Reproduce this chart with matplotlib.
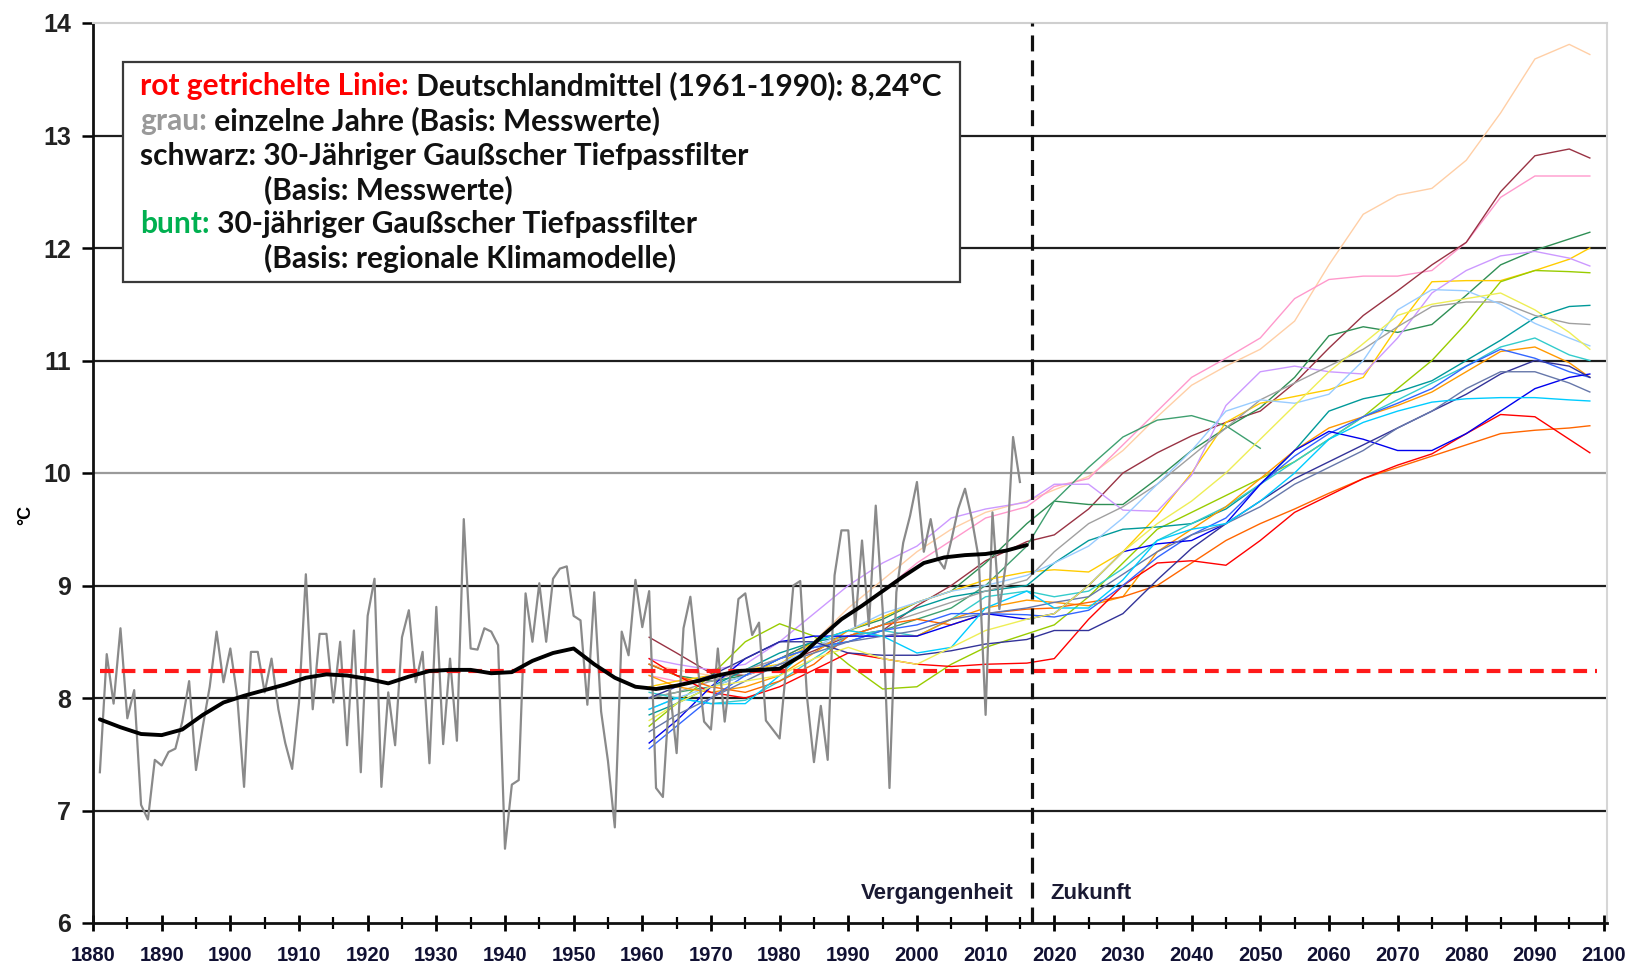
"""Deutschland-Jahresmitteltemperatur 1881-2015 und regionale Klimamodelle bis 2100."""
import numpy as np
import matplotlib
matplotlib.use("Agg")
import matplotlib.pyplot as plt
from matplotlib.patches import Rectangle
from matplotlib.ticker import MultipleLocator

W, H = 1648, 965

# ---- measured annual means (grau), 1881-2015 ----
ANNUAL_START = 1881
ANNUAL = [
    7.34, 8.39, 7.95, 8.62, 7.82, 8.07, 7.05, 6.92, 7.45,
    7.40, 7.52, 7.55, 7.79, 8.15, 7.36, 7.75, 8.10, 8.59, 8.14,
    8.44, 8.02, 7.21, 8.41, 8.41, 8.05, 8.35, 7.90, 7.60, 7.37,
    7.96, 9.10, 7.90, 8.57, 8.57, 7.96, 8.50, 7.58, 8.60, 7.34,
    8.73, 9.06, 7.21, 8.05, 7.58, 8.54, 8.78, 8.14, 8.41, 7.42,
    8.81, 7.59, 8.35, 7.62, 9.59, 8.44, 8.43, 8.62, 8.59, 8.47,
    6.66, 7.23, 7.27, 8.93, 8.50, 9.02, 8.50, 9.06, 9.15, 9.17,
    8.73, 8.69, 7.94, 8.94, 7.88, 7.44, 6.85, 8.59, 8.38, 9.05,
    8.63, 8.95, 7.20, 7.12, 8.09, 7.51, 8.62, 8.90, 8.32, 7.79,
    7.72, 8.44, 7.79, 8.30, 8.88, 8.93, 8.56, 8.67, 7.80, 7.72,
    7.64, 8.30, 9.00, 9.04, 8.00, 7.43, 7.93, 7.45, 9.09, 9.49,
    9.49, 8.64, 9.40, 8.64, 9.71, 8.79, 7.20, 8.94, 9.38, 9.62,
    9.92, 9.30, 9.59, 9.24, 9.15, 9.40, 9.68, 9.86, 9.59, 9.24,
    7.85, 9.65, 8.79, 9.21, 10.32, 9.92,
]

# ---- 30-year Gaussian low-pass of the measurements (schwarz) ----
SMOOTH_YEARS = list(range(1881, 2017, 3))
SMOOTH = [
    7.81, 7.74, 7.68, 7.67, 7.72, 7.85, 7.96, 8.02, 8.07, 8.12,
    8.18, 8.21, 8.20, 8.17, 8.13, 8.19, 8.24, 8.25, 8.25, 8.22,
    8.23, 8.33, 8.40, 8.44, 8.30, 8.18, 8.10, 8.08, 8.11, 8.15,
    8.20, 8.24, 8.25, 8.26, 8.37, 8.54, 8.70, 8.82, 8.95, 9.08,
    9.20, 9.25, 9.27, 9.28, 9.31, 9.36,
]

MEAN_1961_1990 = 8.24
MEAN_SPAN = (1881, 2099)
PRESENT = 2016.7

# ---- regional climate models, 30-year low-pass (bunt) ----
MODEL_YEARS = [1961, 1965, 1970, 1975, 1980, 1985, 1990, 1995, 2000, 2005, 2010,
               2016, 2020, 2025, 2030, 2035, 2040, 2045, 2050, 2055, 2060, 2065,
               2070, 2075, 2080, 2085, 2090, 2095, 2098]
nan = np.nan
MODELS = {
    "#ffcfa6": [8.30, 8.25, 8.20, 8.20, 8.30, 8.50, 8.80, 9.05, 9.30, 9.50, 9.65,
                9.75, 9.85, 9.97, 10.20, 10.50, 10.78, 10.95, 11.10, 11.35, 11.85,
                12.30, 12.47, 12.53, 12.78, 13.20, 13.68, 13.81, 13.72],
    "#ff99cc": [8.20, 8.15, 8.15, 8.25, 8.35, 8.50, 8.75, 8.95, 9.20, 9.40, 9.60,
                9.70, 9.88, 9.95, 10.25, 10.55, 10.85, 11.02, 11.20, 11.55, 11.72,
                11.75, 11.75, 11.80, 12.05, 12.45, 12.64, 12.64, 12.64],
    "#993344": [8.54, 8.40, 8.22, 8.20, 8.30, 8.42, 8.55, 8.60, 8.82, 9.00, 9.22,
                9.39, 9.45, 9.68, 10.00, 10.18, 10.33, 10.45, 10.55, 10.80, 11.11,
                11.40, 11.62, 11.85, 12.05, 12.50, 12.82, 12.88, 12.80],
    "#2f8f55": [8.30, 8.20, 8.15, 8.20, 8.35, 8.50, 8.60, 8.70, 8.85, 8.95, 9.20,
                9.55, 9.75, 9.72, 9.72, 9.95, 10.20, 10.40, 10.58, 10.85, 11.22,
                11.30, 11.25, 11.32, 11.58, 11.85, 11.98, 12.08, 12.14],
    "#3fa070": [8.00, 8.05, 8.10, 8.20, 8.35, 8.45, 8.50, 8.60, 8.70, 8.80, 9.00,
                9.35, 9.75, 10.05, 10.32, 10.47, 10.51, 10.42, 10.22, nan, nan,
                nan, nan, nan, nan, nan, nan, nan, nan],
    "#ffcc00": [8.10, 8.15, 8.20, 8.25, 8.30, 8.50, 8.60, 8.72, 8.85, 8.95, 9.05,
                9.12, 9.14, 9.12, 9.30, 9.62, 10.00, 10.45, 10.62, 10.68, 10.74,
                10.85, 11.30, 11.70, 11.71, 11.71, 11.80, 11.90, 12.00],
    "#cc99ff": [8.35, 8.30, 8.25, 8.30, 8.50, 8.75, 9.00, 9.20, 9.35, 9.60, 9.68,
                9.74, 9.90, 9.90, 9.67, 9.66, 9.98, 10.60, 10.90, 10.95, 10.90,
                10.88, 11.20, 11.60, 11.80, 11.93, 11.97, 11.91, 11.84],
    "#99cc00": [7.75, 7.95, 8.20, 8.50, 8.66, 8.55, 8.30, 8.08, 8.10, 8.30, 8.45,
                8.57, 8.65, 8.90, 9.20, 9.50, 9.65, 9.80, 9.95, 10.10, 10.30,
                10.50, 10.75, 11.00, 11.33, 11.70, 11.80, 11.79, 11.78],
    "#009999": [7.85, 7.95, 8.10, 8.25, 8.40, 8.50, 8.55, 8.65, 8.80, 8.90, 8.95,
                9.00, 9.20, 9.40, 9.50, 9.52, 9.55, 9.68, 9.90, 10.20, 10.55,
                10.66, 10.72, 10.82, 11.00, 11.18, 11.38, 11.48, 11.49],
    "#a0a0a0": [8.00, 8.05, 8.15, 8.25, 8.35, 8.45, 8.55, 8.65, 8.75, 8.85, 8.95,
                9.05, 9.30, 9.55, 9.70, 9.90, 10.15, 10.40, 10.65, 10.80, 10.95,
                11.10, 11.30, 11.48, 11.52, 11.52, 11.40, 11.33, 11.32],
    "#99ccff": [7.90, 8.00, 8.10, 8.20, 8.30, 8.45, 8.60, 8.75, 8.85, 8.95, 9.00,
                9.09, 9.20, 9.35, 9.60, 9.90, 10.20, 10.55, 10.65, 10.62, 10.70,
                11.00, 11.45, 11.63, 11.62, 11.50, 11.33, 11.20, 11.13],
    "#33cccc": [8.05, 8.00, 7.95, 7.98, 8.15, 8.35, 8.55, 8.60, 8.55, 8.70, 8.90,
                8.95, 8.90, 8.95, 9.15, 9.40, 9.55, 9.70, 9.90, 10.10, 10.30,
                10.50, 10.65, 10.80, 10.95, 11.12, 11.20, 11.05, 11.00],
    "#ff9900": [8.20, 8.10, 8.05, 8.10, 8.20, 8.40, 8.60, 8.55, 8.55, 8.70, 8.80,
                8.87, 8.85, 8.82, 8.90, 9.30, 9.50, 9.70, 9.95, 10.20, 10.40,
                10.50, 10.60, 10.72, 10.90, 11.08, 11.12, 10.98, 10.85],
    "#ff6600": [8.30, 8.20, 8.10, 8.05, 8.15, 8.30, 8.55, 8.65, 8.70, 8.65, 8.75,
                8.79, 8.80, 8.85, 8.90, 9.00, 9.20, 9.40, 9.55, 9.68, 9.82,
                9.95, 10.05, 10.15, 10.25, 10.35, 10.38, 10.40, 10.42],
    "#ff0000": [8.35, 8.20, 8.05, 8.00, 8.10, 8.25, 8.40, 8.35, 8.30, 8.28, 8.30,
                8.31, 8.35, 8.70, 9.00, 9.20, 9.22, 9.18, 9.40, 9.65, 9.80,
                9.95, 10.07, 10.17, 10.35, 10.52, 10.50, 10.30, 10.18],
    "#3366ff": [7.55, 7.75, 8.00, 8.20, 8.35, 8.45, 8.50, 8.60, 8.65, 8.75, 8.75,
                8.74, 8.72, 8.78, 9.00, 9.25, 9.45, 9.60, 9.90, 10.15, 10.35,
                10.50, 10.62, 10.75, 10.95, 11.10, 11.02, 10.90, 10.85],
    "#0000ee": [7.60, 7.80, 8.10, 8.35, 8.50, 8.55, 8.55, 8.55, 8.55, 8.65, 8.75,
                8.70, 8.75, 9.00, 9.30, 9.37, 9.40, 9.55, 9.90, 10.20, 10.37,
                10.30, 10.20, 10.20, 10.35, 10.55, 10.75, 10.85, 10.88],
    "#333399": [8.00, 8.10, 8.20, 8.35, 8.50, 8.50, 8.40, 8.38, 8.38, 8.42, 8.48,
                8.52, 8.60, 8.60, 8.75, 9.05, 9.33, 9.55, 9.75, 9.95, 10.10,
                10.25, 10.40, 10.55, 10.70, 10.88, 11.00, 10.95, 10.85],
    "#6677aa": [7.70, 7.85, 8.00, 8.15, 8.30, 8.40, 8.50, 8.55, 8.60, 8.70, 8.75,
                8.80, 8.85, 8.90, 9.10, 9.30, 9.45, 9.55, 9.70, 9.90, 10.05,
                10.20, 10.40, 10.55, 10.75, 10.90, 10.90, 10.80, 10.72],
    "#00ccff": [7.90, 8.00, 7.95, 7.95, 8.20, 8.50, 8.60, 8.55, 8.40, 8.45, 8.80,
                8.95, 8.80, 8.80, 9.05, 9.40, 9.50, 9.55, 9.75, 10.00, 10.30,
                10.45, 10.55, 10.63, 10.66, 10.67, 10.67, 10.65, 10.64],
    "#eeee55": [7.80, 7.95, 8.10, 8.15, 8.20, 8.35, 8.45, 8.35, 8.30, 8.45, 8.60,
                8.70, 8.75, 9.00, 9.30, 9.55, 9.75, 10.00, 10.30, 10.60, 10.90,
                11.15, 11.40, 11.50, 11.55, 11.60, 11.45, 11.25, 11.10],
}

XTICKS = list(range(1880, 2101, 10))
YTICKS = list(range(6, 15))
GRID = {7: "#1e1e1e", 8: "#1e1e1e", 9: "#1e1e1e", 10: "#9a9a9a",
        11: "#1e1e1e", 12: "#1e1e1e", 13: "#1e1e1e"}

LEGEND_LINES = [
    (140, 86, [("rot getrichelte Linie:", "#ff0000"),
               (" Deutschlandmittel (1961-1990): 8,24°C", "#111111")]),
    (140, 121, [("grau:", "#999999"), (" einzelne Jahre (Basis: Messwerte)", "#111111")]),
    (140, 156, [("schwarz: 30-Jähriger Gaußscher Tiefpassfilter", "#111111")]),
    (264, 190, [("(Basis: Messwerte)", "#111111")]),
    (140, 224, [("bunt:", "#00b050"), (" 30-jähriger Gaußscher Tiefpassfilter", "#111111")]),
    (264, 258, [("(Basis: regionale Klimamodelle)", "#111111")]),
]
LEGEND_SIZE = 21.5

TICK_FONT = ["Liberation Sans", "DejaVu Sans"]
LEGEND_FONT = ["Lato", "DejaVu Sans"]

fig = plt.figure(figsize=(W / 100, H / 100), dpi=100)
ax = fig.add_axes([93 / W, 42 / H, (1607 - 93) / W, 900 / H])
ax.set_xlim(1880, 2100.5)
ax.set_ylim(6, 14)

for level, col in GRID.items():
    ax.axhline(level, color=col, lw=1.6, zorder=1)

for col, vals in MODELS.items():
    ax.plot(MODEL_YEARS, vals, color=col, lw=1.0, zorder=2)

annual_years = np.arange(ANNUAL_START, ANNUAL_START + len(ANNUAL))
ax.plot(annual_years, ANNUAL, color="#8a8a8a", lw=1.6, zorder=3)
ax.hlines(MEAN_1961_1990, *MEAN_SPAN, color="#ff1a1a", lw=3.0,
          linestyles=(0, (3.3, 1.9)), zorder=4)
ax.plot(SMOOTH_YEARS, SMOOTH, color="black", lw=2.8, zorder=5,
        solid_capstyle="round", solid_joinstyle="round")
ax.axvline(PRESENT, color="#111111", lw=2.3, dashes=(5, 2.8), zorder=6)

ax.text(PRESENT - 2.6, 6.26, "Vergangenheit", ha="right", va="center",
        fontsize=16, fontweight="bold", family=TICK_FONT, color="#1a1a33", zorder=7)
ax.text(PRESENT + 2.7, 6.26, "Zukunft", ha="left", va="center",
        fontsize=16, fontweight="bold", family=TICK_FONT, color="#1a1a33", zorder=7)

# axes styling
for side in ("left", "bottom"):
    ax.spines[side].set_color("#111111")
    ax.spines[side].set_linewidth(2.0)
ax.spines["top"].set_color("#cfcfcf")
ax.spines["top"].set_linewidth(1.5)
ax.spines["right"].set_color("#d6d6d6")
ax.spines["right"].set_linewidth(1.5)

ax.set_xticks(XTICKS)
ax.set_xticklabels([str(x) for x in XTICKS], fontsize=14.5, fontweight="bold",
                   family=TICK_FONT, color="#111133")
ax.xaxis.set_minor_locator(MultipleLocator(5))
ax.tick_params(axis="x", which="major", direction="inout", length=11, width=2, pad=11)
ax.tick_params(axis="x", which="minor", direction="inout", length=9, width=1.6)
ax.set_yticks(YTICKS)
ax.set_yticklabels([str(y) for y in YTICKS], fontsize=18, fontweight="bold",
                   family=TICK_FONT, color="#222222")
ax.tick_params(axis="y", direction="out", length=8, width=1.8, pad=8)

fig.text(26 / W, 1 - 515 / H, "°C", rotation=90, ha="center", va="center",
         fontsize=13, fontweight="bold", family=TICK_FONT)

# legend box
box = Rectangle((123 / W, 1 - 282 / H), 837 / W, 220 / H, transform=fig.transFigure,
                facecolor="white", edgecolor="#3a3a3a", lw=1.6, zorder=10, clip_on=False)
ax.add_patch(box)

for x, y, parts in LEGEND_LINES:
    prev = ax.text(x / W, 1 - y / H, parts[0][0], color=parts[0][1],
                   transform=fig.transFigure, ha="left", va="center",
                   fontsize=LEGEND_SIZE, fontweight="bold", family=LEGEND_FONT, zorder=11)
    for s, c in parts[1:]:
        prev = ax.annotate(s, xy=(1, 0), xycoords=prev, ha="left", va="bottom",
                           color=c, fontsize=LEGEND_SIZE, fontweight="bold",
                           family=LEGEND_FONT, zorder=11)

fig.savefig("out.png", dpi=100)
